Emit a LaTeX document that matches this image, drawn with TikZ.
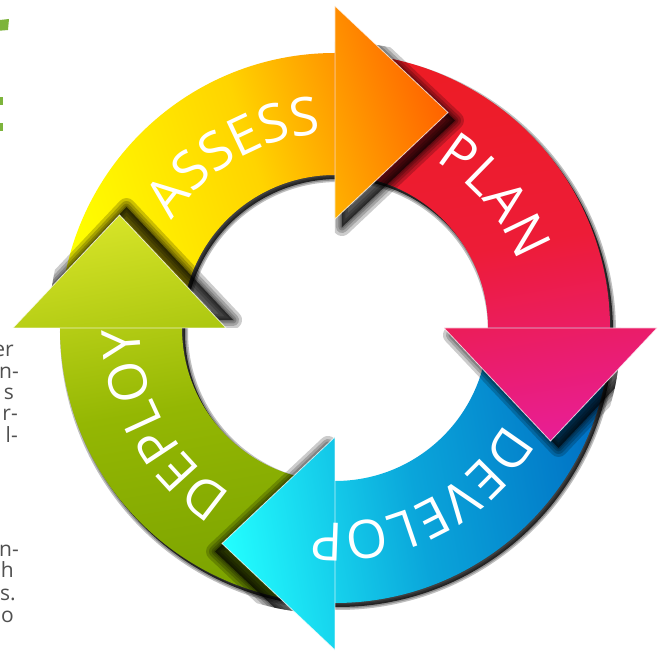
\documentclass[tikz,border=0pt]{standalone}
\usepackage{fontspec}
\setmainfont{Open Sans}
\newfontfamily\labfont{Open Sans}
\usetikzlibrary{decorations.text}

\definecolor{yel}{RGB}{255,255,0}
\definecolor{yelmid}{RGB}{255,212,0}
\definecolor{ora}{RGB}{255,100,0}
\definecolor{redA}{RGB}{237,28,36}
\definecolor{redmid}{RGB}{237,28,55}
\definecolor{pinkA}{RGB}{232,30,150}
\definecolor{blueA}{RGB}{0,110,195}
\definecolor{bluemid}{RGB}{10,165,218}
\definecolor{cyanA}{RGB}{35,255,255}
\definecolor{grnA}{RGB}{122,162,0}
\definecolor{grnmid}{RGB}{148,183,3}
\definecolor{limeA}{RGB}{215,228,40}
\definecolor{txtgray}{RGB}{80,80,80}
\definecolor{titlegreen}{RGB}{125,180,60}

\newcommand{\shaftp}[2]{(#1:275) arc[start angle=#1,end angle=#2,radius=275] -- (#2:153) arc[start angle=#2,end angle=#1,radius=153] -- cycle}
\newcommand{\headp}[1]{(#1:109) -- (#1:322) -- ({#1-27.67}:243.33) -- cycle}
\newcommand{\wedgep}[1]{(0,0) -- (#1:286) arc[start angle=#1,end angle={#1-90},radius=286] -- cycle}
\newcommand{\headshadow}[3]{%
  \begin{scope}
    \clip \wedgep{#1};
    \begin{scope}[shift={(#2,#3)}]
      \foreach \w in {18,12,7,3}{
        \path[fill=black, draw=black, fill opacity=0.2, draw opacity=0.2, line width=\w pt, line join=round] \headp{#1};
      }
    \end{scope}
  \end{scope}}

\tikzset{
  ringtext/.style={decorate, decoration={text along path, text align=center, text color=white, text={|\labfont\fontsize{53}{60}\selectfont|#1}}},
  sidetext/.style={text=txtgray, font=\fontsize{21}{24}\selectfont, inner sep=0pt, anchor=base east},
  headedge/.style={draw=white, draw opacity=0.75, line width=0.8pt, line join=miter},
  assessshade/.style={top color=ora, bottom color=yel, middle color=yelmid, shading angle=-72},
  planshade/.style={top color=redA, bottom color=pinkA, middle color=redmid, shading angle=10},
  devshade/.style={top color=cyanA, bottom color=blueA, middle color=bluemid, shading angle=100},
  depshade/.style={top color=limeA, bottom color=grnA, middle color=grnmid, shading angle=10},
}

\begin{document}
\begin{tikzpicture}[x=1pt,y=1pt]
\useasboundingbox (-335,-324) rectangle (326,328);
\clip (-335,-324) rectangle (326,328);
\fill[white] (-335,-324) rectangle (326,328);

% cropped side text
\node[sidetext] (s1) at (-321,-29) {er};
\node[sidetext] (s2) at (-316,-51) {n-};
\node[sidetext] (s3) at (-321,-72) {s};
\node[sidetext] (s4) at (-317,-93) {r-};
\node[sidetext] (s5) at (-317,-115) {l-};
\node[sidetext] (s6) at (-316,-229) {n-};
\node[sidetext] (s7) at (-321,-250) {h};
\node[sidetext] (s8) at (-319,-272) {s.};
\node[sidetext] (s9) at (-321,-294) {o};

% cropped green heading fragments
\fill[titlegreen] (-335,308) -- (-326,309) -- (-327,298) -- (-335,297.3) -- cycle;
\fill[titlegreen] (-335,223) rectangle (-332.3,231);
\fill[titlegreen] (-335,197) rectangle (-332.3,205);

% ring drop shadow
\begin{scope}[shift={(3,-4)}]
  \foreach \w in {6,3}{
    \path[draw=black, draw opacity=0.25, line width=\w pt] (0,0) circle (275) (0,0) circle (153);
  }
  \fill[black, even odd rule, opacity=0.75] (0,0) circle (275) (0,0) circle (153);
\end{scope}

% shafts
\begin{scope}\clip \shaftp{180}{90}; \shade[assessshade] (-285,-5) rectangle (125,330);\end{scope}
\begin{scope}\clip \shaftp{90}{0}; \shade[planshade] (-5,-125) rectangle (330,285);\end{scope}
\begin{scope}\clip \shaftp{0}{-90}; \shade[devshade] (-125,-330) rectangle (285,5);\end{scope}
\begin{scope}\clip \shaftp{-90}{-180}; \shade[depshade] (-330,-285) rectangle (5,125);\end{scope}

% heads with shadows
\headshadow{90}{7}{-8}
\begin{scope}\clip \headp{90}; \shade[assessshade] (-285,-5) rectangle (125,330);\end{scope}
\path[headedge] \headp{90};

\headshadow{0}{8}{-7}
\begin{scope}\clip \headp{0}; \shade[planshade] (-5,-125) rectangle (330,285);\end{scope}
\path[headedge] \headp{0};

\headshadow{-90}{-7}{-8}
\begin{scope}\clip \headp{-90}; \shade[devshade] (-125,-330) rectangle (285,5);\end{scope}
\path[headedge] \headp{-90};

\headshadow{180}{7}{8}
\begin{scope}\clip \headp{180}; \shade[depshade] (-330,-285) rectangle (5,125);\end{scope}
\path[headedge] \headp{180};

% labels along the ring
\path[ringtext=ASSESS] (170.25:195) arc[start angle=170.25, end angle=70.25, radius=195];
\path[ringtext=PLAN] (89.5:195) arc[start angle=89.5, end angle=-10.5, radius=195];
\path[ringtext=DEVELOP] (-13:195) arc[start angle=-13, end angle=-113, radius=195];
\path[ringtext=DEPLOY] (259:195) arc[start angle=259, end angle=159, radius=195];
\end{tikzpicture}
\end{document}
